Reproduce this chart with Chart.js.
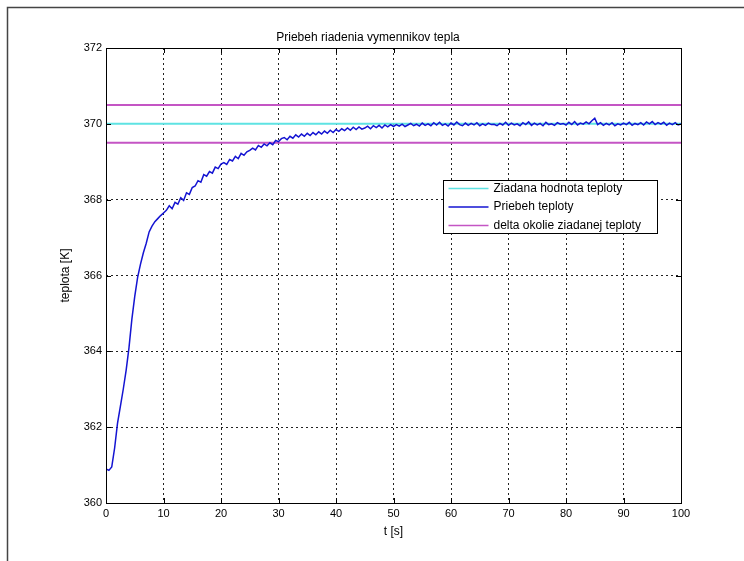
<!DOCTYPE html>
<html>
<head>
<meta charset="utf-8">
<script src="https://cdn.jsdelivr.net/npm/chart.js@4.4.1/dist/chart.umd.min.js"></script>
<style>
  html, body { margin: 0; padding: 0; background: #fff; }
  #wrap { width: 744px; height: 561px; }
</style>
</head>
<body>
<div id="wrap"><canvas id="chart" width="744" height="561"></canvas></div>
<script>
// measured temperature (sampled every 0.5 s)
const timeS = [
  0, 0.5, 1, 1.5, 2, 2.5, 3, 3.5, 4, 4.5, 5, 5.5, 6, 6.5, 7, 7.5, 8, 8.5, 9, 9.5,
  10, 10.5, 11, 11.5, 12, 12.5, 13, 13.5, 14, 14.5, 15, 15.5, 16, 16.5, 17, 17.5, 18, 18.5, 19, 19.5,
  20, 20.5, 21, 21.5, 22, 22.5, 23, 23.5, 24, 24.5, 25, 25.5, 26, 26.5, 27, 27.5, 28, 28.5, 29, 29.5,
  30, 30.5, 31, 31.5, 32, 32.5, 33, 33.5, 34, 34.5, 35, 35.5, 36, 36.5, 37, 37.5, 38, 38.5, 39, 39.5,
  40, 40.5, 41, 41.5, 42, 42.5, 43, 43.5, 44, 44.5, 45, 45.5, 46, 46.5, 47, 47.5, 48, 48.5, 49, 49.5,
  50, 50.5, 51, 51.5, 52, 52.5, 53, 53.5, 54, 54.5, 55, 55.5, 56, 56.5, 57, 57.5, 58, 58.5, 59, 59.5,
  60, 60.5, 61, 61.5, 62, 62.5, 63, 63.5, 64, 64.5, 65, 65.5, 66, 66.5, 67, 67.5, 68, 68.5, 69, 69.5,
  70, 70.5, 71, 71.5, 72, 72.5, 73, 73.5, 74, 74.5, 75, 75.5, 76, 76.5, 77, 77.5, 78, 78.5, 79, 79.5,
  80, 80.5, 81, 81.5, 82, 82.5, 83, 83.5, 84, 84.5, 85, 85.5, 86, 86.5, 87, 87.5, 88, 88.5, 89, 89.5,
  90, 90.5, 91, 91.5, 92, 92.5, 93, 93.5, 94, 94.5, 95, 95.5, 96, 96.5, 97, 97.5, 98, 98.5, 99, 99.5,
  100
];
const tempK = [
  360.90, 360.86, 360.95, 361.45, 362.10, 362.55, 363.00, 363.50, 364.10, 364.85,
  365.45, 365.95, 366.30, 366.60, 366.85, 367.15, 367.30, 367.42, 367.50, 367.58,
  367.65, 367.72, 367.84, 367.76, 367.93, 367.88, 368.05, 367.98, 368.18, 368.14,
  368.32, 368.36, 368.50, 368.46, 368.66, 368.62, 368.74, 368.70, 368.86, 368.82,
  368.94, 368.98, 368.93, 369.06, 369.02, 369.14, 369.08, 369.22, 369.17, 369.26,
  369.30, 369.36, 369.31, 369.43, 369.38, 369.47, 369.42, 369.50, 369.45, 369.56,
  369.53, 369.61, 369.64, 369.58, 369.67, 369.62, 369.71, 369.65, 369.73, 369.67,
  369.75, 369.69, 369.77, 369.71, 369.79, 369.73, 369.81, 369.75, 369.83, 369.77,
  369.85, 369.80, 369.87, 369.82, 369.89, 369.83, 369.91, 369.85, 369.92, 369.86,
  369.89, 369.94, 369.87, 369.95, 369.90, 369.96, 369.89, 369.97, 369.92, 369.98,
  369.93, 369.98, 369.94, 369.99, 369.93, 369.97, 370.01, 369.95, 369.99, 369.94,
  370.02, 369.96, 370.00, 369.95, 370.03, 369.97, 370.04, 369.96, 370.00, 369.94,
  370.02, 369.97, 370.05, 369.98, 369.95, 370.02, 369.96, 370.01, 369.97, 370.03,
  369.95, 370.00, 369.96, 370.02, 369.98, 369.99, 369.95, 370.01, 369.97, 370.04,
  369.96, 370.02, 369.97, 370.00, 369.95, 370.03, 369.98, 370.05, 369.96, 370.02,
  369.97, 370.01, 369.95, 370.04, 369.98, 370.00, 369.96, 370.03, 369.99, 370.01,
  369.97, 370.04, 369.98, 370.06, 369.97, 370.02, 369.99, 370.05, 370.00, 370.08,
  370.15, 369.98, 370.03, 369.96, 370.01, 369.97, 370.03, 369.95, 370.00, 369.97,
  370.02, 369.98, 370.04, 369.96, 370.01, 369.98, 370.03, 369.97, 370.05, 370.00,
  370.06, 369.98, 370.03, 369.99, 370.04, 369.96, 370.02, 369.98, 370.03, 369.97,
  370.00
];

// reference lines
const lineT = [0, 100];
const setpointK = [370, 370];
const bandHighK = [370.5, 370.5];
const bandLowK = [369.5, 369.5];

const legendLabels = ['Ziadana hodnota teploty', 'Priebeh teploty', 'delta okolie ziadanej teploty'];
const xTicks = [0, 10, 20, 30, 40, 50, 60, 70, 80, 90, 100];
const yTicks = [360, 362, 364, 366, 368, 370, 372];

const cyan = '#5ee3e3';
const blue = '#1414d2';
const magenta = '#c455c4';
const fontFamily = '"Liberation Sans", Arial, Helvetica, sans-serif';

function pts(xs, ys) {
    return xs.map((x, i) => ({ x: x, y: ys[i] }));
}

// white page + the outer figure frame (left and top edges)
const framePlugin = {
    id: 'frame',
    beforeDraw(chart) {
        const ctx = chart.ctx;
        ctx.save();
        ctx.fillStyle = '#fff';
        ctx.fillRect(0, 0, chart.width, chart.height);
        ctx.strokeStyle = '#444';
        ctx.lineWidth = 1.5;
        ctx.beginPath();
        ctx.moveTo(7.5, chart.height);
        ctx.lineTo(7.5, 7.5);
        ctx.lineTo(chart.width, 7.5);
        ctx.stroke();
        ctx.restore();
    }
};

// axes box with inward tick marks, matlab style
const boxPlugin = {
    id: 'box',
    afterDatasetsDraw(chart) {
        const ctx = chart.ctx;
        const a = chart.chartArea;
        const xs = chart.scales.x, ys = chart.scales.y;
        ctx.save();
        ctx.strokeStyle = '#000';
        ctx.lineWidth = 1;
        ctx.beginPath();
        xTicks.forEach(v => {
            const px = Math.round(xs.getPixelForValue(v)) + 0.5;
            ctx.moveTo(px, a.bottom); ctx.lineTo(px, a.bottom - 5);
            ctx.moveTo(px, a.top); ctx.lineTo(px, a.top + 5);
        });
        yTicks.forEach(v => {
            const py = Math.round(ys.getPixelForValue(v)) + 0.5;
            ctx.moveTo(a.left, py); ctx.lineTo(a.left + 5, py);
            ctx.moveTo(a.right, py); ctx.lineTo(a.right - 5, py);
        });
        ctx.stroke();
        ctx.strokeRect(Math.round(a.left) + 0.5, Math.round(a.top) + 0.5,
            Math.round(a.right - a.left), Math.round(a.bottom - a.top));
        ctx.restore();
    }
};

// legend box inside the plot
const legendBoxPlugin = {
    id: 'legendBox',
    afterDraw(chart) {
        const ctx = chart.ctx;
        const colors = [cyan, blue, magenta];
        const left = 443.5, top = 180.5, w = 214, h = 53;
        ctx.save();
        ctx.fillStyle = '#fff';
        ctx.fillRect(left, top, w, h);
        ctx.strokeStyle = '#000';
        ctx.lineWidth = 1;
        ctx.strokeRect(left, top, w, h);
        ctx.font = '12px ' + fontFamily;
        ctx.textBaseline = 'middle';
        ctx.fillStyle = '#000';
        legendLabels.forEach((label, i) => {
            const y = top + 8 + i * 18.5;
            ctx.strokeStyle = colors[i];
            ctx.lineWidth = 1.5;
            ctx.beginPath();
            ctx.moveTo(left + 5, y);
            ctx.lineTo(left + 45, y);
            ctx.stroke();
            ctx.fillText(label, left + 50, y);
        });
        ctx.restore();
    }
};

const ctx = document.getElementById('chart').getContext('2d');
const myChart = new Chart(ctx, {
    type: 'line',
    data: {
        datasets: [
            { label: legendLabels[1], data: pts(timeS, tempK), borderColor: blue, borderWidth: 1.5, order: 0 },
            { label: legendLabels[0], data: pts(lineT, setpointK), borderColor: cyan, borderWidth: 2, order: 1 },
            { label: legendLabels[2], data: pts(lineT, bandHighK), borderColor: magenta, borderWidth: 2, order: 2 },
            { label: '', data: pts(lineT, bandLowK), borderColor: magenta, borderWidth: 2, order: 2 }
        ]
    },
    options: {
        responsive: false,
        animation: false,
        events: [],
        elements: {
            point: { radius: 0 },
            line: { tension: 0, fill: false }
        },
        layout: { padding: { left: 55, right: 63, top: 0, bottom: 22 } },
        plugins: {
            legend: { display: false },
            tooltip: { enabled: false },
            title: {
                display: true,
                text: 'Priebeh riadenia vymennikov tepla',
                color: '#000',
                font: { family: fontFamily, size: 12, weight: 'normal' },
                padding: { top: 30, bottom: 3.6 }
            }
        },
        scales: {
            x: {
                type: 'linear',
                min: 0,
                max: 100,
                afterFit: s => { s.height = 36; },
                afterBuildTicks: s => { s.ticks = xTicks.map(v => ({ value: v })); },
                ticks: { color: '#000', padding: 4, font: { family: fontFamily, size: 11 } },
                grid: { color: '#222', lineWidth: 1, drawTicks: false },
                border: { display: false, dash: [2, 3] },
                title: {
                    display: true, text: 't [s]', color: '#000',
                    font: { family: fontFamily, size: 12 }, padding: { top: 0, bottom: 0 }
                }
            },
            y: {
                type: 'linear',
                min: 360,
                max: 372,
                afterFit: s => { s.width = 51; },
                afterBuildTicks: s => { s.ticks = yTicks.map(v => ({ value: v })); },
                ticks: { color: '#000', padding: 4, font: { family: fontFamily, size: 11 } },
                grid: { color: '#222', lineWidth: 1, drawTicks: false },
                border: { display: false, dash: [2, 3] },
                title: {
                    display: true, text: 'teplota [K]', color: '#000',
                    font: { family: fontFamily, size: 12 }, padding: { top: 3, bottom: 0 }
                }
            }
        }
    },
    plugins: [framePlugin, boxPlugin, legendBoxPlugin]
});
</script>
</body>
</html>
